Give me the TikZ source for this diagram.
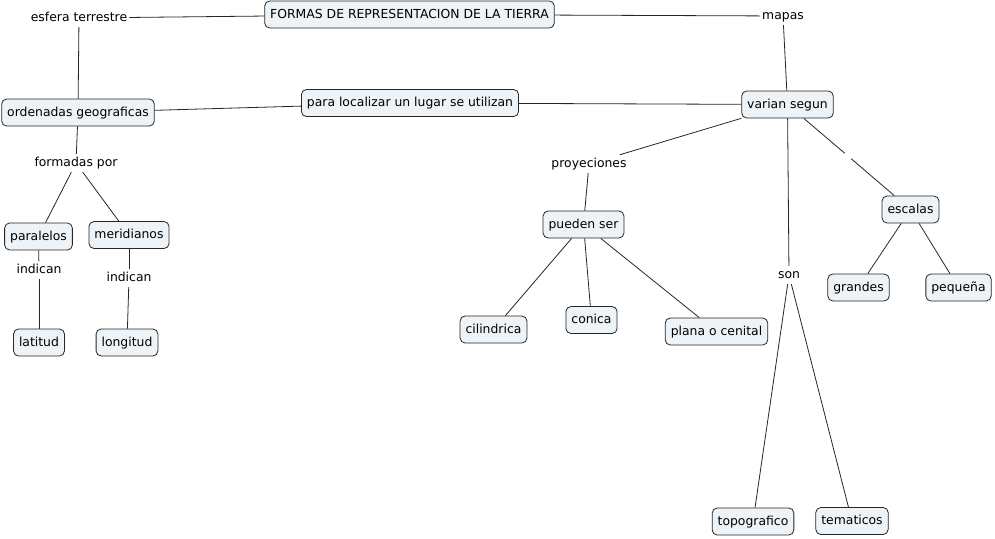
\documentclass[tikz,border=0pt]{standalone}
\usepackage{fontspec}
\setmainfont{DejaVu Sans}
\begin{document}
\begin{tikzpicture}[x=1pt,y=-1pt,
  concept/.style={draw=black!85, line width=0.8pt, fill=boxfill, rounded corners=5pt,
    inner xsep=5.5pt, inner ysep=0pt, minimum height=27pt, text height=9.5pt, text depth=2.5pt, font=\fontsize{12.4}{14}\selectfont},
  phrase/.style={inner xsep=2pt, inner ysep=3pt, text height=9.5pt, text depth=2.5pt, fill=white, font=\fontsize{12.4}{14}\selectfont},
  link/.style={draw=black!85, line width=0.8pt}]
\definecolor{boxfill}{HTML}{EDF3F6}
\useasboundingbox (0,0) rectangle (995,538);
% concepts
\node[concept] (tierra) at (409.5,14.5) {FORMAS DE REPRESENTACION DE LA TIERRA};
\node[concept] (orden) at (78,112.5) {ordenadas geograficas};
\node[concept] (para) at (410,103) {para localizar un lugar se utilizan};
\node[concept] (varian) at (787.5,104.5) {varian segun};
\node[concept] (pueden) at (583.5,224.5) {pueden ser};
\node[concept] (cilin) at (493.5,329.5) {cilindrica};
\node[concept] (conica) at (591.5,320) {conica};
\node[concept] (plana) at (716.5,331.5) {plana o cenital};
\node[concept] (escalas) at (910.5,209.5) {escalas};
\node[concept] (grandes) at (858.5,287.5) {grandes};
\node[concept] (peq) at (958.5,287.5) {pequeña};
\node[concept] (topo) at (753,521.5) {topografico};
\node[concept] (tema) at (852,521) {tematicos};
\node[concept] (paral) at (38.5,236.5) {paralelos};
\node[concept] (merid) at (129,235) {meridianos};
\node[concept] (lat) at (39,342.5) {latitud};
\node[concept] (long) at (127,342.5) {longitud};
% phrases
\node[phrase] (esfera) at (79,18) {esfera terrestre};
\node[phrase] (mapas) at (783,16) {mapas};
\node[phrase] (proy) at (589,164) {proyeciones};
\node[phrase] (son) at (789,275) {son};
\node[phrase] (formadas) at (76,163) {formadas por};
\node[phrase] (ind1) at (39,270) {indican};
\node[phrase] (ind2) at (129,278) {indican};
\node[inner sep=3pt] (blank) at (848,156) {};
% links
\draw[link] (esfera) -- (tierra);
\draw[link] (tierra) -- (mapas);
\draw[link] (mapas) -- (varian);
\draw[link] (esfera) -- (orden);
\draw[link] (orden) -- (para);
\draw[link] (para) -- (varian);
\draw[link] (varian) -- (proy);
\draw[link] (proy) -- (pueden);
\draw[link] (pueden) -- (cilin);
\draw[link] (pueden) -- (conica);
\draw[link] (pueden) -- (plana);
\draw[link] (varian) -- (son);
\draw[link] (son) -- (topo);
\draw[link] (son) -- (tema);
\draw[link] (varian) -- (blank);
\draw[link] (blank) -- (escalas);
\draw[link] (escalas) -- (grandes);
\draw[link] (escalas) -- (peq);
\draw[link] (orden) -- (formadas);
\draw[link] (formadas) -- (paral);
\draw[link] (formadas) -- (merid);
\draw[link] (paral) -- (ind1);
\draw[link] (ind1) -- (lat);
\draw[link] (merid) -- (ind2);
\draw[link] (ind2) -- (long);
\end{tikzpicture}
\end{document}
